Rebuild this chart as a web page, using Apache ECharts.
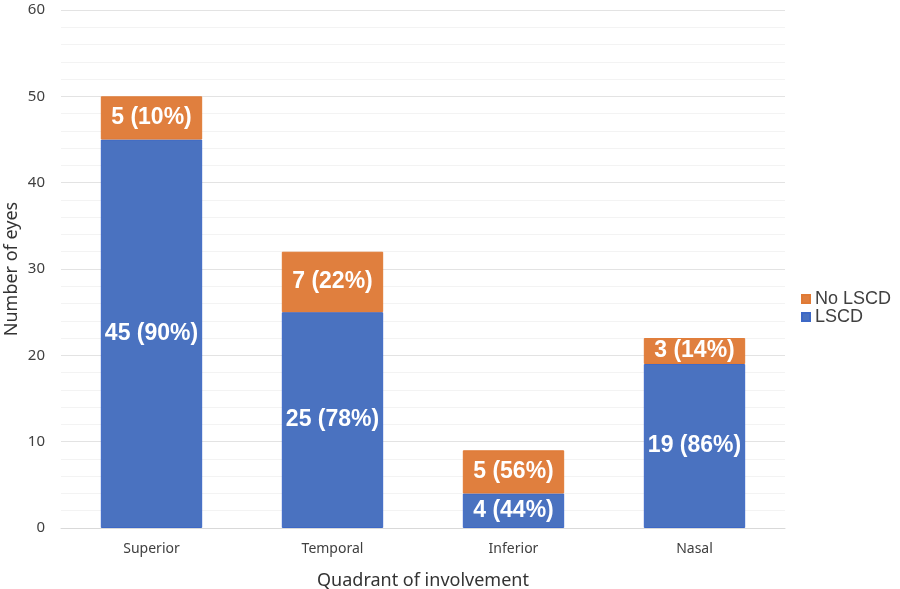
<!DOCTYPE html>
<html><head><meta charset="utf-8">
<script src="https://cdn.jsdelivr.net/npm/echarts@6/dist/echarts.min.js"></script>
<style>html,body{margin:0;padding:0;background:#fff}#c{width:900px;height:589px}</style>
</head><body><div id="c"></div>
<script>
const categories = ['Superior', 'Temporal', 'Inferior', 'Nasal'];
const lscd = [45, 25, 4, 19];
const lscdPct = [90, 78, 44, 86];
const noLscd = [5, 7, 5, 3];
const noLscdPct = [10, 22, 56, 14];
const yTicks = [0, 10, 20, 30, 40, 50, 60];

const chart = echarts.init(document.getElementById('c'), null, {renderer: 'canvas'});
const labelStyle = (pcts) => ({
  show: true, position: 'inside', color: '#fff', fontWeight: 'bold',
  fontFamily: 'Liberation Sans', fontSize: 23,
  formatter: p => p.value + ' (' + pcts[p.dataIndex] + '%)'
});
chart.setOption({
  animation: false,
  grid: {left: 61, right: 115, top: 10, bottom: 61, containLabel: false, outerBoundsMode: 'none'},
  legend: {
    orient: 'vertical', left: 796, top: 285, itemWidth: 8, itemHeight: 8, itemGap: 0,
    data: ['No LSCD', 'LSCD'], icon: 'rect',
    textStyle: {fontFamily: 'Liberation Sans', fontSize: 18, color: '#404040'}
  },
  xAxis: {
    type: 'category', data: categories,
    name: 'Quadrant of involvement', nameLocation: 'middle', nameGap: 44, nameMoveOverlap: false,
    nameTextStyle: {fontFamily: 'Noto Sans', fontSize: 18, color: '#333'},
    axisLine: {lineStyle: {color: '#d9d9d9', width: 1}},
    axisTick: {show: false},
    axisLabel: {fontFamily: 'Noto Sans', fontSize: 14, color: '#404040', margin: 14}
  },
  yAxis: {
    type: 'value', min: yTicks[0], max: yTicks[yTicks.length - 1], interval: 10,
    name: 'Number of eyes', nameLocation: 'middle', nameGap: 40, nameRotate: 90, nameMoveOverlap: false,
    nameTextStyle: {fontFamily: 'Noto Sans', fontSize: 18, color: '#333'},
    axisLine: {show: false}, axisTick: {show: false},
    axisLabel: {fontFamily: 'Noto Sans', fontSize: 15, color: '#404040', margin: 16},
    splitLine: {lineStyle: {color: '#e3e3e3', width: 1}},
    minorTick: {show: false, splitNumber: 5},
    minorSplitLine: {show: true, lineStyle: {color: '#f3f3f3', width: 1}}
  },
  series: [
    {
      name: 'LSCD', type: 'bar', stack: 'a', data: lscd, barWidth: '56%',
      itemStyle: {color: '#4A72C0', borderColor: '#3d68c6', borderWidth: 1},
      label: labelStyle(lscdPct)
    },
    {
      name: 'No LSCD', type: 'bar', stack: 'a', data: noLscd, barWidth: '56%',
      itemStyle: {color: '#E07F3E', borderColor: '#e07a35', borderWidth: 1},
      label: labelStyle(noLscdPct)
    }
  ]
});
</script></body></html>
